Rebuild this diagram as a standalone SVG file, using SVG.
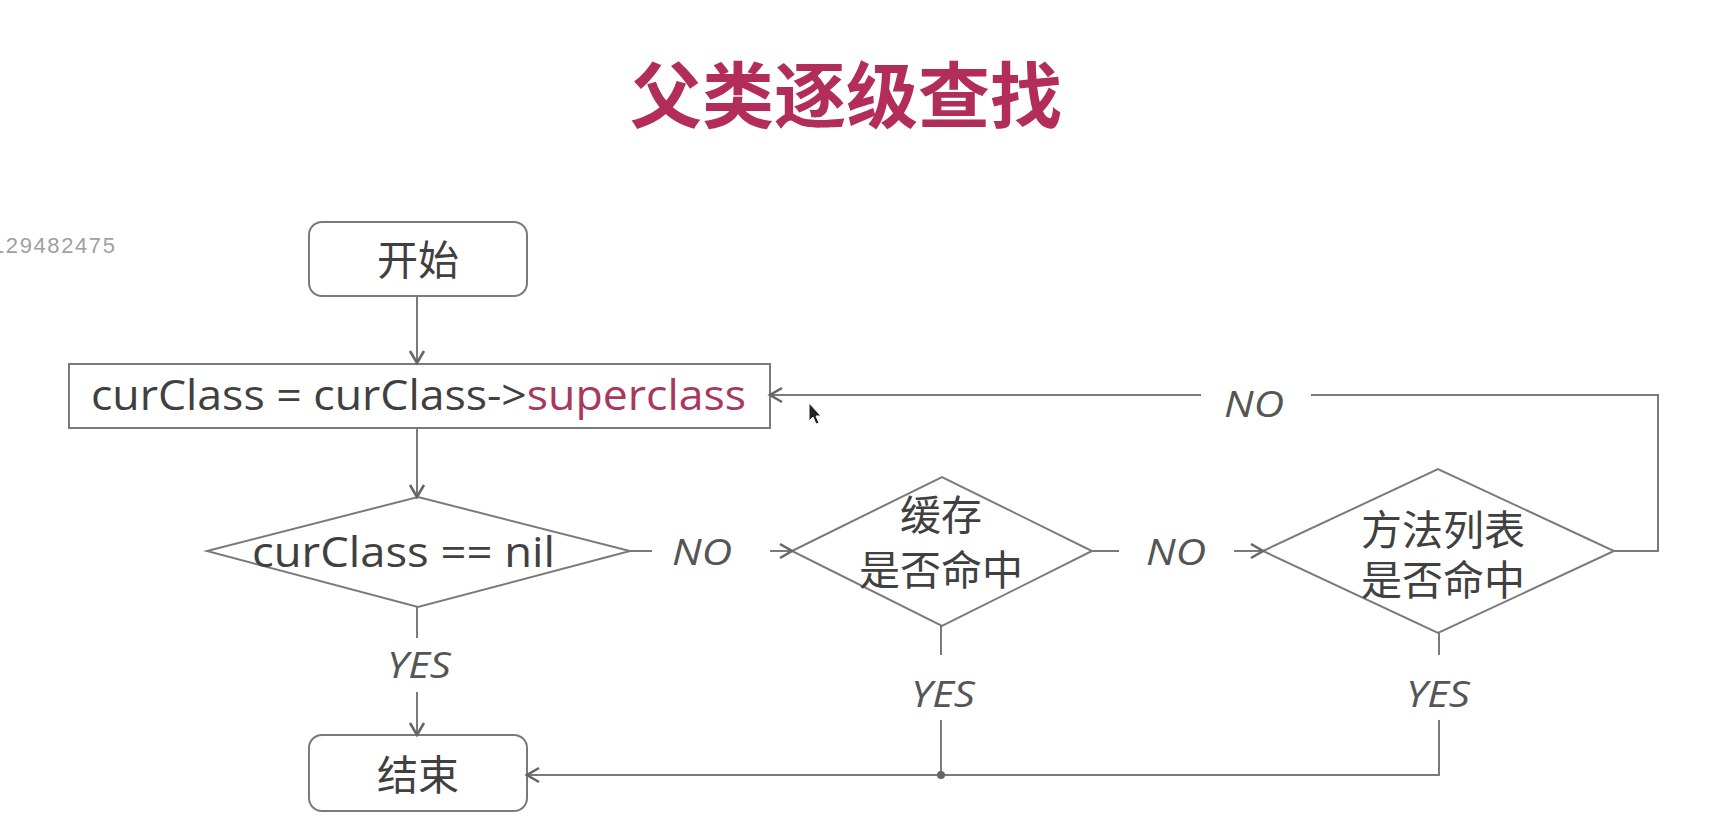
<svg xmlns="http://www.w3.org/2000/svg" width="1712" height="828" viewBox="0 0 1712 828">
<defs>
<marker id="arr" markerUnits="userSpaceOnUse" markerWidth="20" markerHeight="20" viewBox="0 0 20 20" refX="16" refY="10" orient="auto">
<path d="M4,3 L16,10 L4,17" fill="none" stroke="#666" stroke-width="2.6" stroke-linejoin="miter"/>
</marker>
<style>
.box{fill:#fff;stroke:#7a7a7a;stroke-width:2}
.ln{fill:none;stroke:#7a7a7a;stroke-width:2}
.cjk{font-family:"Noto Sans CJK SC","Noto Sans",sans-serif;font-size:41px;fill:#404040;text-anchor:middle}
.lat{font-family:"Open Sans","Noto Sans",sans-serif;font-size:42px;fill:#404040}
.lbl{font-family:"Open Sans","Noto Sans",sans-serif;font-style:italic;font-size:37px;fill:#555;text-anchor:middle}
</style>
</defs>
<rect width="1712" height="828" fill="#fff"/>
<text x="846" y="122" font-family="'Noto Sans CJK SC',sans-serif" font-size="72" font-weight="bold" fill="#b22d57" text-anchor="middle">父类逐级查找</text>
<text x="-8" y="253" font-family="'Liberation Sans',Arial,sans-serif" font-size="22" letter-spacing="1.6" fill="#a0a0a0">129482475</text>

<g id="start">
<rect class="box" x="309" y="222" width="218" height="74" rx="13"/>
<text class="cjk" x="418" y="275">开始</text>
</g>
<g id="step">
<rect class="box" x="69" y="364" width="701" height="64"/>
<text class="lat" x="91" y="410" textLength="655" lengthAdjust="spacingAndGlyphs">curClass = curClass-&gt;<tspan fill="#a8385e">superclass</tspan></text>
</g>
<g id="isNil">
<polygon class="box" points="207,551 418,497 630,551 418,607"/>
<text class="lat" x="252" y="567" textLength="303" lengthAdjust="spacingAndGlyphs">curClass == nil</text>
</g>
<g id="cache">
<polygon class="box" points="792,551 942,477 1092,551 942,626"/>
<text class="cjk" x="941" y="530">缓存</text>
<text class="cjk" x="941" y="585">是否命中</text>
</g>
<g id="methodList">
<polygon class="box" points="1263,551 1438,469 1614,551 1438,633"/>
<text class="cjk" x="1443" y="545">方法列表</text>
<text class="cjk" x="1443" y="595">是否命中</text>
</g>
<g id="end">
<rect class="box" x="309" y="735" width="218" height="76" rx="13"/>
<text class="cjk" x="418" y="790">结束</text>
</g>

<g id="connectors">
<path class="ln" d="M417,296 V363" marker-end="url(#arr)"/>
<path class="ln" d="M417,428 V497" marker-end="url(#arr)"/>
<path class="ln" d="M630,551 H652"/>
<path class="ln" d="M770,551 H792" marker-end="url(#arr)"/>
<path class="ln" d="M1092,551 H1119"/>
<path class="ln" d="M1234,551 H1263" marker-end="url(#arr)"/>
<path class="ln" d="M1614,551 H1658 V395 H1311"/>
<path class="ln" d="M1201,395 H770" marker-end="url(#arr)"/>
<path class="ln" d="M417,607 V638"/>
<path class="ln" d="M417,692 V735" marker-end="url(#arr)"/>
<path class="ln" d="M941,626 V655"/>
<path class="ln" d="M941,720 V775"/>
<path class="ln" d="M1439,633 V655"/>
<path class="ln" d="M1439,720 V775 H527" marker-end="url(#arr)"/>
<circle cx="941" cy="775" r="4" fill="#666"/>
<text class="lbl" x="702" y="565" textLength="60" lengthAdjust="spacingAndGlyphs">NO</text>
<text class="lbl" x="1176" y="565" textLength="60" lengthAdjust="spacingAndGlyphs">NO</text>
<text class="lbl" x="1254" y="417" textLength="60" lengthAdjust="spacingAndGlyphs">NO</text>
<text class="lbl" x="419" y="678" textLength="64" lengthAdjust="spacingAndGlyphs">YES</text>
<text class="lbl" x="943" y="707" textLength="64" lengthAdjust="spacingAndGlyphs">YES</text>
<text class="lbl" x="1438" y="707" textLength="64" lengthAdjust="spacingAndGlyphs">YES</text>
</g>
<path d="M809,403 L809,421 L813,417 L816,424 L819,423 L816,416 L821,416 Z" fill="#222" stroke="#fff" stroke-width="1"/>
</svg>
